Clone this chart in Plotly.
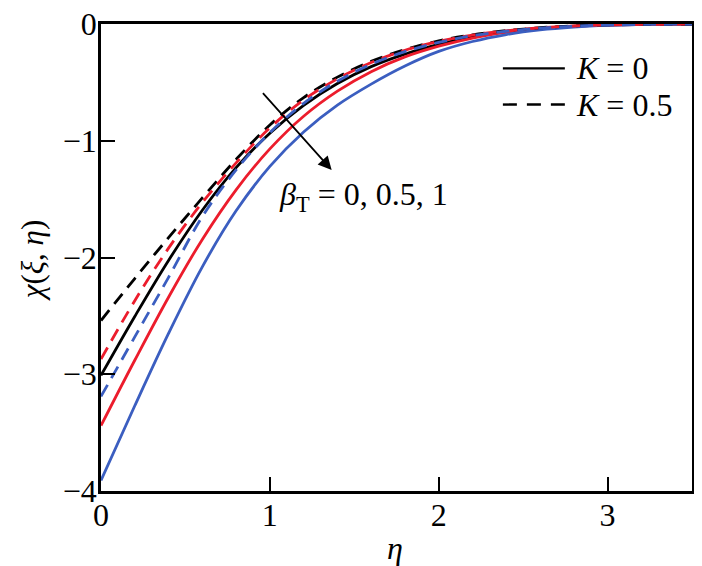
import plotly.graph_objects as go

eta = [0, 0.2, 0.4, 0.6, 0.8, 1.0, 1.2, 1.4, 1.6, 1.8, 2.0, 2.2, 2.4, 2.6, 2.8, 3.0, 3.25, 3.5]

# K = 0 (solid lines), beta_T = 0, 0.5, 1
k0_b0 = [-3.01, -2.505, -2.025, -1.595, -1.23, -0.935, -0.696, -0.509, -0.365, -0.258, -0.175, -0.11, -0.066, -0.037, -0.018, -0.008, -0.003, -0.001]
k0_b05 = [-3.44, -2.88, -2.34, -1.845, -1.42, -1.07, -0.79, -0.575, -0.408, -0.282, -0.19, -0.12, -0.072, -0.04, -0.02, -0.009, -0.003, -0.001]
k0_b1 = [-3.91, -3.27, -2.65, -2.08, -1.60, -1.22, -0.925, -0.695, -0.515, -0.36, -0.235, -0.15, -0.09, -0.05, -0.026, -0.012, -0.004, -0.001]

# K = 0.5 (dashed lines), beta_T = 0, 0.5, 1
k5_b0 = [-2.54, -2.18, -1.83, -1.49, -1.16, -0.865, -0.63, -0.455, -0.32, -0.22, -0.145, -0.093, -0.057, -0.032, -0.016, -0.007, -0.002, -0.001]
k5_b05 = [-2.87, -2.37, -1.92, -1.53, -1.19, -0.89, -0.65, -0.47, -0.33, -0.225, -0.148, -0.095, -0.058, -0.033, -0.017, -0.008, -0.003, -0.001]
k5_b1 = [-3.19, -2.68, -2.17, -1.65, -1.25, -0.93, -0.68, -0.49, -0.345, -0.237, -0.158, -0.1, -0.062, -0.036, -0.019, -0.009, -0.003, -0.001]

x_ticks = [0, 1, 2, 3]
y_ticks = [-4, -3, -2, -1, 0]
legend_labels = ["<i>K</i> = 0", "<i>K</i> = 0.5"]
beta_label = "<i>β</i><sub>T</sub> = 0, 0.5, 1"

BLACK = "#000000"
RED = "#EC1C2C"
BLUE = "#3B5EC0"
FONT = "Liberation Serif"
CURVE_DASH = "13px,8px"

fig = go.Figure()
series = [
    (k0_b0, BLACK, "solid"), (k0_b05, RED, "solid"), (k0_b1, BLUE, "solid"),
    (k5_b0, BLACK, CURVE_DASH), (k5_b05, RED, CURVE_DASH), (k5_b1, BLUE, CURVE_DASH),
]
for ys, col, dash in series:
    fig.add_trace(go.Scatter(x=eta, y=ys, mode="lines",
                             line=dict(color=col, width=2.8, dash=dash, shape="spline", smoothing=1.0),
                             showlegend=False, hoverinfo="skip"))

axis_common = dict(showgrid=False, zeroline=False, showline=True, linecolor="black", linewidth=2.6,
                   mirror=True, ticks="inside", ticklen=14, tickwidth=2.4, tickcolor="black",
                   ticklabeloverflow="allow", automargin=False,
                   tickfont=dict(family=FONT, size=32, color="black"))
fig.update_xaxes(range=[0, 3.5], tickvals=x_ticks, ticktext=[str(v) for v in x_ticks],
                 ticklabelstandoff=-6, **axis_common)
fig.update_yaxes(range=[-4, 0], tickvals=y_ticks,
                 ticktext=[("\u2212" + str(-v)) if v < 0 else str(v) for v in y_ticks],
                 ticklabelstandoff=-5, **axis_common)

# the page body adds an 8px margin, so the figure is sized to fill the rest of the window
fig.update_layout(
    width=694, height=558,
    margin=dict(l=93, r=10, t=16, b=75),
    plot_bgcolor="white", paper_bgcolor="white",
    showlegend=False,
)

# axis titles
fig.add_annotation(x=0.497, y=-0.121, xref="paper", yref="paper", text="<i>η</i>", showarrow=False,
                   font=dict(family=FONT, size=32, color="black"), xanchor="center", yanchor="middle")
fig.add_annotation(x=-0.117, y=0.494, xref="paper", yref="paper", text="<i>χ</i>(<i>ξ</i>, <i>η</i>)",
                   showarrow=False, textangle=-90, font=dict(family=FONT, size=31, color="black"),
                   xanchor="center", yanchor="middle")

# arrow indicating increasing beta_T
fig.add_annotation(x=1.366, y=-1.251, ax=0.951, ay=-0.58, xref="x", yref="y", axref="x", ayref="y",
                   text="", showarrow=True, arrowhead=2, arrowsize=1.5, arrowwidth=1.8, arrowcolor="black")
fig.add_annotation(x=1.557, y=-1.48, xref="x", yref="y", text=beta_label, showarrow=False,
                   font=dict(family=FONT, size=32, color="black"), xanchor="center", yanchor="middle")

# legend drawn manually
leg_y = [-0.38, -0.69]
leg_dash = ["solid", "14px,10px"]
for lbl, yy, dsh in zip(legend_labels, leg_y, leg_dash):
    fig.add_shape(type="line", x0=2.38, x1=2.747, y0=yy, y1=yy, xref="x", yref="y",
                  line=dict(color="black", width=2.4, dash=dsh))
    fig.add_annotation(x=2.80, y=yy, xref="x", yref="y", text=lbl, showarrow=False, xanchor="left",
                       yanchor="middle", font=dict(family=FONT, size=32, color="black"))

fig.write_html("out.html")
